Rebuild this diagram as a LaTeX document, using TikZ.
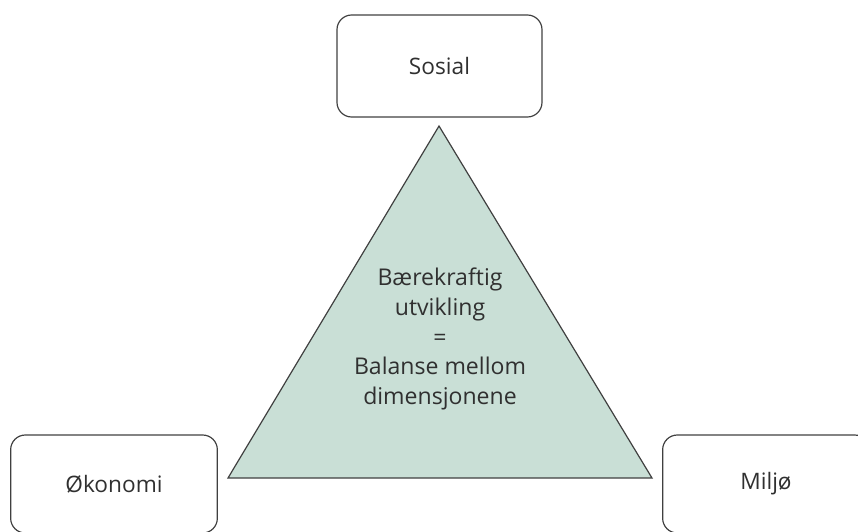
\documentclass[tikz,border=0pt]{standalone}
\usepackage{fontspec}
\setmainfont{Open Sans}
\definecolor{triFill}{HTML}{C9DFD6}
\definecolor{lineGrey}{HTML}{404040}
\definecolor{textGrey}{HTML}{303030}
\tikzset{
  dimbox/.style={draw=lineGrey, line width=0.9pt, rounded corners=11pt,
    minimum width=155pt, minimum height=75pt, text=textGrey,
    font=\fontsize{17}{22}\selectfont},
}

\begin{document}
\begin{tikzpicture}[x=0.75pt,y=-0.75pt]
		%%%%% START %%%%%
		
		\clip (0,0) rectangle (858,532);
		
		\node[dimbox, minimum width=153.75pt, minimum height=76.5pt] (sosial) at (439.5,66) {Sosial};
		\node[dimbox, minimum height=73.5pt] (okonomi) at (114,484) {Økonomi};
		\node[dimbox, minimum height=73.5pt] (miljo) at (766,484) {Miljø};
		
		\coordinate (topp) at (439,126);
		\coordinate (venstre) at (228,478);
		\coordinate (hoyre) at (652,478);
		\draw[fill=triFill, draw=lineGrey, line width=0.9pt] (topp) -- (venstre) -- (hoyre) -- cycle;
		
		\node[align=center, text=textGrey, font=\fontsize{17.3}{22.2}\selectfont] (balanse) at (440,339)
			{Bærekraftig\\utvikling\\=\\Balanse mellom\\dimensjonene};
		
		%%%%% END %%%%%
	\end{tikzpicture}
\end{document}
